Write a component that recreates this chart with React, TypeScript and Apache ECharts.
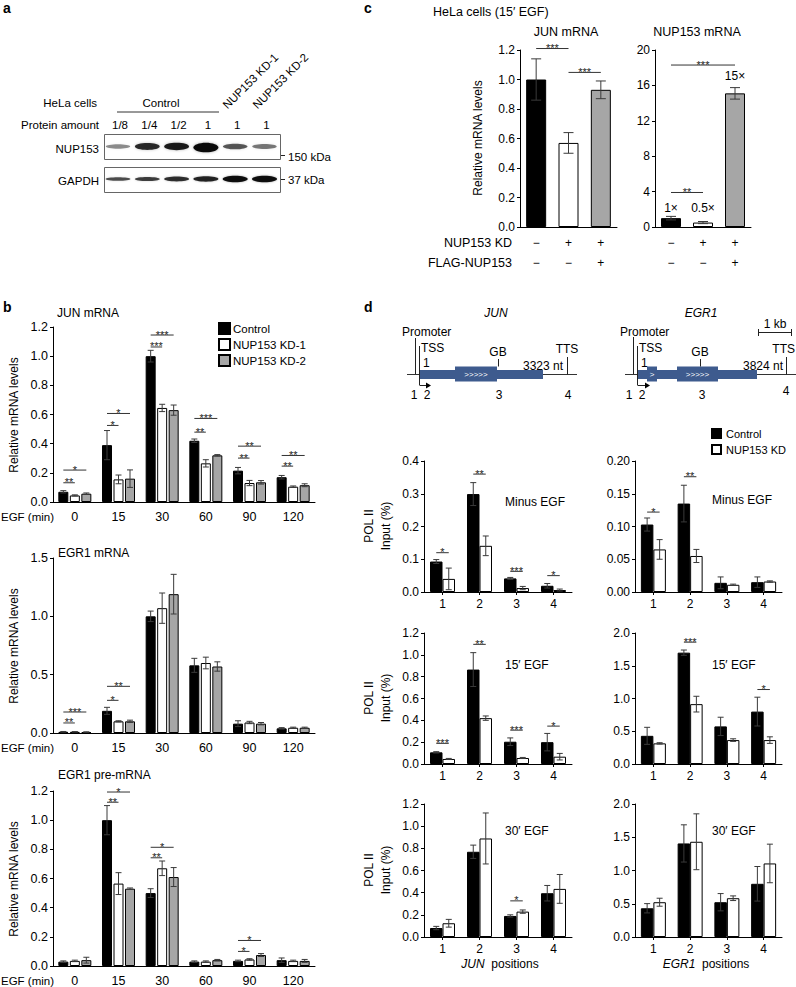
import React, { useEffect, useRef } from 'react';
import * as echarts from 'echarts';

const FONT = '"Liberation Sans", Arial, Helvetica, sans-serif';
const GRAY = '#a6a6a6';
const BLUE = '#3e5b8e';
const INK = '#000';

// ---------- panel a (western blot) ----------
const blotLanes = ['1/8', '1/4', '1/2', '1', '1', '1'];
const nup153Band = [0.35, 0.82, 0.9, 1.0, 0.6, 0.45];
const gapdhBand = [0.62, 0.7, 0.78, 0.84, 0.97, 0.97];

// ---------- panel b ----------
const egfTimes = ['0', '15', '30', '60', '90', '120'];
const bGroups = ['Control', 'NUP153 KD-1', 'NUP153 KD-2'];

const junMrna = [
  [0.07, 0.39, 1.0, 0.42, 0.215, 0.17],
  [0.045, 0.155, 0.645, 0.265, 0.13, 0.105],
  [0.057, 0.16, 0.63, 0.32, 0.135, 0.115],
];
const junMrnaErr = [
  [0.008, 0.1, 0.04, 0.012, 0.022, 0.012],
  [0.004, 0.03, 0.025, 0.025, 0.018, 0.005],
  [0.005, 0.06, 0.035, 0.005, 0.012, 0.01],
];
const junMrnaSig = [
  [0, 0, 0, 1, 0.132, '**'], [0, 0, 0, 2, 0.219, '*'],
  [1, 0, 1, 1, 0.525, '*'], [1, 0, 1, 2, 0.607, '*'],
  [2, 0, 2, 1, 1.063, '***'], [2, 0, 2, 2, 1.145, '***'],
  [3, 0, 3, 1, 0.479, '**'], [3, 0, 3, 2, 0.573, '***'],
  [4, 0, 4, 1, 0.301, '**'], [4, 0, 4, 2, 0.383, '**'],
  [5, 0, 5, 1, 0.246, '**'], [5, 0, 5, 2, 0.319, '**'],
];

const egr1Mrna = [
  [0.01, 0.19, 1.0, 0.58, 0.08, 0.04],
  [0.01, 0.1, 1.07, 0.6, 0.09, 0.045],
  [0.008, 0.1, 1.19, 0.57, 0.08, 0.045],
];
const egr1MrnaErr = [
  [0.003, 0.03, 0.045, 0.06, 0.025, 0.006],
  [0.002, 0.005, 0.13, 0.05, 0.01, 0.005],
  [0.002, 0.01, 0.17, 0.04, 0.01, 0.005],
];
const egr1MrnaSig = [
  [0, 0, 0, 1, 0.086, '**'], [0, 0, 0, 2, 0.18, '***'],
  [1, 0, 1, 1, 0.28, '*'], [1, 0, 1, 2, 0.4, '**'],
];

const egr1Pre = [
  [0.03, 1.0, 0.5, 0.03, 0.035, 0.04],
  [0.035, 0.565, 0.67, 0.03, 0.045, 0.035],
  [0.04, 0.53, 0.61, 0.04, 0.075, 0.035],
];
const egr1PreErr = [
  [0.005, 0.1, 0.03, 0.005, 0.005, 0.015],
  [0.005, 0.075, 0.05, 0.005, 0.005, 0.005],
  [0.02, 0.005, 0.065, 0.005, 0.01, 0.01],
];
const egr1PreSig = [
  [1, 0, 1, 1, 1.123, '**'], [1, 0, 1, 2, 1.193, '*'],
  [2, 0, 2, 1, 0.742, '**'], [2, 0, 2, 2, 0.814, '*'],
  [4, 0, 4, 1, 0.1, '*'], [4, 0, 4, 2, 0.175, '*'],
];

// ---------- panel c ----------
const cKd = ['\u2212', '+', '+'];
const cFlag = ['\u2212', '\u2212', '+'];
const cJun = [1.0, 0.57, 0.93];
const cJunErr = [0.14, 0.07, 0.06];
const cNup = [1.0, 0.5, 15.1];
const cNupErr = [0.2, 0.12, 0.65];
const cFold = ['1\u00d7', '0.5\u00d7', '15\u00d7'];
const cJunSig = [[0, 0, 1, 0, 1.21, '***'], [1, 0, 2, 0, 1.048, '***']];
const cNupSig = [[0, 0, 2, 0, 18.3, '***'], [0, 0, 1, 0, 3.9, '**']];

// ---------- panel d ----------
const positions = ['1', '2', '3', '4'];
const dGroups = ['Control', 'NUP153 KD'];

const dJunMinus = [[0.093, 0.299, 0.0415, 0.019], [0.04, 0.141, 0.012, 0.006]];
const dJunMinusErr = [[0.006, 0.035, 0.003, 0.007], [0.033, 0.03, 0.005, 0.003]];
const dJunMinusSig = [[0, 0, 0, 1, 0.12, '*'], [1, 0, 1, 1, 0.36, '**'], [2, 0, 2, 1, 0.063, '***'], [3, 0, 3, 1, 0.05, '*']];

const dJun15 = [[0.107, 0.865, 0.204, 0.2], [0.046, 0.42, 0.055, 0.067]];
const dJun15Err = [[0.006, 0.155, 0.035, 0.08], [0.005, 0.02, 0.005, 0.03]];
const dJun15Sig = [[0, 0, 0, 1, 0.189, '***'], [1, 0, 1, 1, 1.096, '**'], [2, 0, 2, 1, 0.31, '***'], [3, 0, 3, 1, 0.347, '*']];

const dJun30 = [[0.081, 0.769, 0.19, 0.395], [0.124, 0.889, 0.229, 0.434]];
const dJun30Err = [[0.015, 0.06, 0.01, 0.07], [0.035, 0.23, 0.015, 0.13]];
const dJun30Sig = [[2, 0, 2, 1, 0.326, '*']];

const dEgrMinus = [[0.103, 0.135, 0.014, 0.015], [0.065, 0.055, 0.011, 0.016]];
const dEgrMinusErr = [[0.01, 0.028, 0.009, 0.008], [0.015, 0.01, 0.001, 0.001]];
const dEgrMinusSig = [[0, 0, 0, 1, 0.122, '*'], [1, 0, 1, 1, 0.176, '**']];

const dEgr15 = [[0.43, 1.7, 0.574, 0.8], [0.315, 0.914, 0.365, 0.365]];
const dEgr15Err = [[0.13, 0.04, 0.14, 0.22], [0.01, 0.12, 0.02, 0.05]];
const dEgr15Sig = [[1, 0, 1, 1, 1.86, '***'], [3, 0, 3, 1, 1.137, '*']];

const dEgr30 = [[0.432, 1.407, 0.523, 0.8], [0.523, 1.432, 0.583, 1.106]];
const dEgr30Err = [[0.07, 0.28, 0.13, 0.26], [0.06, 0.42, 0.035, 0.29]];
const dEgr30Sig: any[] = [];

// ---------- helpers ----------
type Panel = {
  left: number; top: number; width: number; height: number;
  cats: string[]; min: number; max: number; interval: number; dec: number;
  values: number[][]; errs: number[][]; sig: any[];
  names?: string[]; colors: string[]; bw: number; gap: number;
  xTick?: boolean; xMargin: number; xLineHeight?: number; itemColors?: string[];
  labels?: string[]; labelDist?: number[]; cap: number; font: number;
};

function offsetOf(si: number, n: number, bw: number, gap: number) {
  return (si - (n - 1) / 2) * bw * (1 + gap);
}

function buildOption() {
  const grid: any[] = [];
  const xAxis: any[] = [];
  const yAxis: any[] = [];
  const series: any[] = [];

  const addPanel = (p: Panel) => {
    const gi = grid.length;
    grid.push({ left: p.left, top: p.top, width: p.width, height: p.height });
    xAxis.push({
      gridIndex: gi, type: 'category', data: p.cats,
      axisLine: { show: true, lineStyle: { color: INK, width: 1 } },
      axisTick: p.xTick ? { show: true, alignWithLabel: true, length: 3, lineStyle: { color: INK } } : { show: false },
      axisLabel: { color: INK, fontSize: p.font, fontFamily: FONT, margin: p.xMargin, interval: 0, lineHeight: p.xLineHeight },
      splitLine: { show: false },
    });
    yAxis.push({
      gridIndex: gi, type: 'value', min: p.min, max: p.max, interval: p.interval,
      axisLine: { show: true, lineStyle: { color: INK, width: 1 } },
      axisTick: { show: true, length: 3, lineStyle: { color: INK } },
      splitLine: { show: false },
      axisLabel: { color: INK, fontSize: p.font, fontFamily: FONT, margin: 5, formatter: (v: number) => v.toFixed(p.dec) },
    });
    const n = p.values.length;
    p.values.forEach((row, si) => {
      const data = p.itemColors
        ? row.map((v, i) => ({
            value: v,
            itemStyle: { color: p.itemColors![i], borderColor: INK, borderWidth: 1 },
            label: p.labels ? { show: true, position: 'top', distance: p.labelDist![i], formatter: p.labels[i], color: INK, fontSize: 12, fontFamily: FONT } : undefined,
          }))
        : row;
      series.push({
        type: 'bar', name: p.names ? p.names[si] : 'bars' + gi,
        xAxisIndex: gi, yAxisIndex: gi, data,
        barWidth: p.bw, barGap: p.gap * 100 + '%',
        itemStyle: { color: p.colors[si], borderColor: INK, borderWidth: 1 },
        silent: true, z: 2,
      });
    });
    const errData: number[][] = [];
    p.values.forEach((row, si) => row.forEach((v, ci) => errData.push([ci, v, p.errs[si][ci], si])));
    series.push({
      type: 'custom', xAxisIndex: gi, yAxisIndex: gi, data: errData, silent: true, z: 5,
      encode: { x: 0, y: 1 },
      renderItem: (_params: any, api: any) => {
        const ci = api.value(0), v = api.value(1), e = api.value(2), si = api.value(3);
        const top = api.coord([ci, v + e]);
        const bot = api.coord([ci, Math.max(0, v - e)]);
        const x = top[0] + offsetOf(si, n, p.bw, p.gap);
        const st = { stroke: '#3a3a3a', lineWidth: 1 };
        return {
          type: 'group',
          children: [
            { type: 'line', shape: { x1: x, y1: top[1], x2: x, y2: bot[1] }, style: st },
            { type: 'line', shape: { x1: x - p.cap, y1: top[1], x2: x + p.cap, y2: top[1] }, style: st },
            { type: 'line', shape: { x1: x - p.cap, y1: bot[1], x2: x + p.cap, y2: bot[1] }, style: st },
          ],
        };
      },
    });
    if (p.sig.length) {
      const sigLabels = p.sig.map((s) => s[5]);
      series.push({
        type: 'custom', xAxisIndex: gi, yAxisIndex: gi, silent: true, z: 6,
        data: p.sig.map((s) => [s[0], s[1], s[2], s[3], s[4]]),
        encode: { x: [0, 2], y: 4 },
        renderItem: (params: any, api: any) => {
          const a = api.coord([api.value(0), api.value(4)]);
          const b = api.coord([api.value(2), api.value(4)]);
          const xa = a[0] + offsetOf(api.value(1), n, p.bw, p.gap);
          const xb = b[0] + offsetOf(api.value(3), n, p.bw, p.gap);
          const y = a[1];
          return {
            type: 'group',
            children: [
              { type: 'line', shape: { x1: xa, y1: y, x2: xb, y2: y }, style: { stroke: '#333', lineWidth: 1 } },
              {
                type: 'text', x: (xa + xb) / 2, y: y + 5,
                style: { text: sigLabels[params.dataIndex], fill: '#222', fontSize: 11, fontFamily: FONT, align: 'center', verticalAlign: 'bottom' },
              },
            ],
          };
        },
      });
    }
  };

  const bColors = [INK, '#fff', GRAY];
  const bBase = { left: 53, width: 262, cats: egfTimes, names: bGroups, colors: bColors, bw: 10, gap: 0.15, xMargin: 8, dec: 1, min: 0, cap: 3, font: 12.5 };
  addPanel({ ...bBase, top: 327, height: 175, max: 1.2, interval: 0.2, values: junMrna, errs: junMrnaErr, sig: junMrnaSig });
  addPanel({ ...bBase, top: 558, height: 175, max: 1.5, interval: 0.5, values: egr1Mrna, errs: egr1MrnaErr, sig: egr1MrnaSig });
  addPanel({ ...bBase, top: 791, height: 176, max: 1.2, interval: 0.2, values: egr1Pre, errs: egr1PreErr, sig: egr1PreSig });

  const cCats = cKd.map((k, i) => k + '\n' + cFlag[i]);
  const cBase = { cats: cCats, colors: [INK], bw: 20, gap: 0, xMargin: 6, xLineHeight: 20, min: 0, itemColors: [INK, '#fff', GRAY], cap: 5, font: 12 };
  addPanel({ ...cBase, left: 520, top: 50, width: 97, height: 177, max: 1.2, interval: 0.2, dec: 1, values: [cJun], errs: [cJunErr], sig: cJunSig });
  addPanel({ ...cBase, left: 655, top: 50, width: 96, height: 177, max: 20, interval: 4, dec: 0, values: [cNup], errs: [cNupErr], sig: cNupSig, labels: cFold, labelDist: [4, 9, 11] });

  const dBase = { cats: positions, names: dGroups, colors: [INK, '#fff'], bw: 12.5, gap: 0, xTick: true, xMargin: 6, min: 0, width: 148, cap: 3, font: 12 };
  addPanel({ ...dBase, left: 424, top: 461, height: 131, max: 0.4, interval: 0.1, dec: 1, values: dJunMinus, errs: dJunMinusErr, sig: dJunMinusSig });
  addPanel({ ...dBase, left: 424, top: 633, height: 131, max: 1.2, interval: 0.2, dec: 1, values: dJun15, errs: dJun15Err, sig: dJun15Sig });
  addPanel({ ...dBase, left: 424, top: 804, height: 133, max: 1.2, interval: 0.2, dec: 1, values: dJun30, errs: dJun30Err, sig: dJun30Sig });
  addPanel({ ...dBase, left: 635, width: 147, top: 461, height: 131, max: 0.2, interval: 0.05, dec: 2, values: dEgrMinus, errs: dEgrMinusErr, sig: dEgrMinusSig });
  addPanel({ ...dBase, left: 635, width: 147, top: 633, height: 131, max: 2, interval: 0.5, dec: 1, values: dEgr15, errs: dEgr15Err, sig: dEgr15Sig });
  addPanel({ ...dBase, left: 635, width: 147, top: 804, height: 133, max: 2, interval: 0.5, dec: 1, values: dEgr30, errs: dEgr30Err, sig: dEgr30Sig });

  // ---------- graphics ----------
  const g: any[] = [];
  const T = (text: string, x: number, y: number, o: any = {}) =>
    g.push({
      type: 'text', x, y, rotation: o.rot || 0, silent: true,
      style: {
        text, fill: o.fill || INK, fontSize: o.size || 12, fontFamily: FONT,
        fontWeight: o.bold ? 'bold' : 'normal', fontStyle: o.italic ? 'italic' : 'normal',
        align: o.align || 'left', verticalAlign: o.va || 'middle', rich: o.rich,
      },
    });
  const L = (x1: number, y1: number, x2: number, y2: number, o: any = {}) =>
    g.push({ type: 'line', silent: true, shape: { x1, y1, x2, y2 }, style: { stroke: o.stroke || '#222', lineWidth: o.w || 1 } });
  const R = (x: number, y: number, w: number, h: number, o: any = {}) =>
    g.push({ type: 'rect', silent: true, shape: { x, y, width: w, height: h }, style: { fill: o.fill || 'none', stroke: o.stroke || 'none', lineWidth: o.w || 1 } });
  const P = (pts: number[][], fill: string) => g.push({ type: 'polygon', silent: true, shape: { points: pts }, style: { fill } });

  // panel letters
  T('a', 3, 8, { bold: true, size: 14 });
  T('b', 3, 307, { bold: true, size: 14 });
  T('c', 364, 8, { bold: true, size: 14 });
  T('d', 364, 307, { bold: true, size: 14 });

  // panel a
  T('HeLa cells', 97, 103, { align: 'right', size: 11.5 });
  T('Control', 161, 103, { align: 'center', size: 11.5 });
  L(117, 112, 219, 112, { stroke: '#333' });
  T('NUP153 KD-1', 229, 111, { rot: Math.PI / 4, va: 'bottom', size: 11.5 });
  T('NUP153 KD-2', 259, 111, { rot: Math.PI / 4, va: 'bottom', size: 11.5 });
  T('Protein amount', 99, 125, { align: 'right', size: 11.5 });
  const laneX = (i: number) => 118 + i * 29.3;
  blotLanes.forEach((lab, i) => T(lab, laneX(i) + 2, 125, { align: 'center', size: 11.5 }));
  T('NUP153', 99, 149, { align: 'right', size: 11.5 });
  T('GAPDH', 99, 181, { align: 'right', size: 11.5 });
  R(104.5, 134.5, 176, 25, { stroke: '#666' });
  R(104.5, 167.5, 176, 25, { stroke: '#666' });
  nup153Band.forEach((v, i) =>
    g.push({
      type: 'ellipse', silent: true,
      shape: { cx: laneX(i), cy: 146.5 + (i === 3 ? 1 : 0), rx: 12 + 0.5 * v, ry: 1.3 + 2.6 * v * (i === 3 ? 1.35 : 1) },
      style: { fill: `rgba(0,0,0,${0.15 + 0.8 * v})`, shadowBlur: 3, shadowColor: `rgba(0,0,0,${0.35 * v})` },
    }),
  );
  gapdhBand.forEach((v, i) =>
    g.push({
      type: 'ellipse', silent: true,
      shape: { cx: laneX(i), cy: 179, rx: 12.5, ry: 0.8 + 2.6 * v * v },
      style: { fill: `rgba(0,0,0,${0.2 + 0.75 * v})`, shadowBlur: 2, shadowColor: `rgba(0,0,0,${0.35 * v})` },
    }),
  );
  L(281, 155.5, 285, 155.5);
  T('150 kDa', 288, 157, { size: 11.5 });
  L(281, 179.5, 285, 179.5);
  T('37 kDa', 288, 180, { size: 11.5 });

  // panel b text
  T('JUN mRNA', 57, 313);
  T('EGR1 mRNA', 58, 553);
  T('EGR1 pre-mRNA', 58, 775);
  [517, 748, 981].forEach((y) => T('EGF (min)', 54, y, { align: 'right', size: 11.5 }));
  [415, 646, 879].forEach((y) => T('Relative mRNA levels', 14, y, { rot: Math.PI / 2, align: 'center' }));

  // panel c text
  T('HeLa cells (15\u2032 EGF)', 433, 12, { size: 12.5 });
  T('JUN mRNA', 566, 32, { align: 'center', size: 12.5 });
  T('NUP153 mRNA', 697, 32, { align: 'center', size: 12.5 });
  T('Relative mRNA levels', 478, 138, { rot: Math.PI / 2, align: 'center' });
  T('NUP153 KD', 512, 243, { align: 'right', size: 12.5 });
  T('FLAG-NUP153', 512, 263, { align: 'right', size: 12.5 });

  // panel d schematic
  T('JUN', 496, 313, { italic: true, align: 'center' });
  T('EGR1', 701, 313, { italic: true, align: 'center' });
  // JUN gene
  L(407, 374.5, 577, 374.5, { stroke: '#333' });
  R(419, 370, 124, 9, { fill: BLUE });
  R(455, 366.5, 42, 15, { fill: BLUE });
  T('>>>>>', 476, 374, { align: 'center', size: 8, fill: '#fff' });
  L(415.5, 338, 415.5, 374);
  L(419.5, 346, 419.5, 385);
  L(419.5, 385.5, 427, 385.5);
  P([[426, 382.5], [431, 385.5], [426, 388.5]], '#000');
  T('Promoter', 402, 332);
  T('TSS', 421, 348);
  T('1', 423, 363);
  L(498.5, 359, 498.5, 366.5);
  T('GB', 498, 352, { align: 'center' });
  T('3323 nt', 563, 366, { align: 'right' });
  L(567.5, 357, 567.5, 374.5);
  T('TTS', 567, 349, { align: 'center' });
  T('1', 414, 395, { align: 'center' });
  T('2', 427, 395, { align: 'center' });
  T('3', 499, 395, { align: 'center' });
  T('4', 568, 395, { align: 'center' });
  // EGR1 gene
  L(625, 374.5, 796, 374.5, { stroke: '#333' });
  R(637, 370, 120, 9, { fill: BLUE });
  R(647, 366.5, 10, 15, { fill: BLUE });
  T('>', 652, 374, { align: 'center', size: 8, fill: '#fff' });
  R(677, 366.5, 41, 15, { fill: BLUE });
  T('>>>>>', 697.5, 374, { align: 'center', size: 8, fill: '#fff' });
  L(633.5, 337, 633.5, 374);
  L(637.5, 346, 637.5, 385);
  L(637.5, 385.5, 646, 385.5);
  P([[645, 382.5], [650, 385.5], [645, 388.5]], '#000');
  T('Promoter', 620, 332);
  T('TSS', 639, 348);
  T('1', 641, 363);
  L(700.5, 359, 700.5, 366.5);
  T('GB', 700, 352, { align: 'center' });
  T('3824 nt', 783, 366, { align: 'right' });
  L(786.5, 357, 786.5, 374.5);
  T('TTS', 795, 349, { align: 'right' });
  T('1', 629, 395, { align: 'center' });
  T('2', 642, 395, { align: 'center' });
  T('3', 702, 395, { align: 'center' });
  T('4', 786, 391, { align: 'center' });
  // scale bar
  L(758, 332.5, 792, 332.5);
  L(758.5, 329, 758.5, 336);
  L(791.5, 329, 791.5, 336);
  T('1 kb', 775, 324, { align: 'center' });

  // panel d labels
  [526, 698, 870].forEach((y) => {
    T('POL II', 369, y, { rot: Math.PI / 2, align: 'center' });
    T('Input (%)', 386, y, { rot: Math.PI / 2, align: 'center' });
  });
  T('Minus EGF', 505, 502);
  T('Minus EGF', 712, 500);
  T('15\u2032 EGF', 505, 665);
  T('15\u2032 EGF', 712, 665);
  T('30\u2032 EGF', 505, 831);
  T('30\u2032 EGF', 712, 831);
  T('{i|JUN}  positions', 500, 964, { align: 'center', rich: { i: { fontStyle: 'italic', fontSize: 12, fontFamily: FONT } } });
  T('{i|EGR1}  positions', 706, 964, { align: 'center', rich: { i: { fontStyle: 'italic', fontSize: 12, fontFamily: FONT } } });

  return {
    animation: false,
    backgroundColor: '#fff',
    textStyle: { fontFamily: FONT },
    grid, xAxis, yAxis, series,
    legend: [
      {
        data: bGroups, left: 218, top: 322, orient: 'vertical', padding: 0, itemGap: 3,
        itemWidth: 11, itemHeight: 11, icon: 'rect', selectedMode: false,
        textStyle: { fontSize: 11.5, fontFamily: FONT, color: INK, padding: [0, 0, 0, -2] },
      },
      {
        data: dGroups, left: 711, top: 428, orient: 'vertical', padding: 0, itemGap: 5,
        itemWidth: 9, itemHeight: 9, icon: 'rect', selectedMode: false,
        textStyle: { fontSize: 11, fontFamily: FONT, color: INK },
      },
    ],
    graphic: g,
  };
}

export default function App() {
  const ref = useRef<HTMLDivElement>(null);
  useEffect(() => {
    const chart = echarts.init(ref.current!, null, { renderer: 'svg' });
    chart.setOption(buildOption() as any);
    return () => chart.dispose();
  }, []);
  return (
    <div
      ref={ref}
      style={{ position: 'absolute', left: 0, top: 0, width: 796, height: 987, background: '#fff' }}
    />
  );
}
